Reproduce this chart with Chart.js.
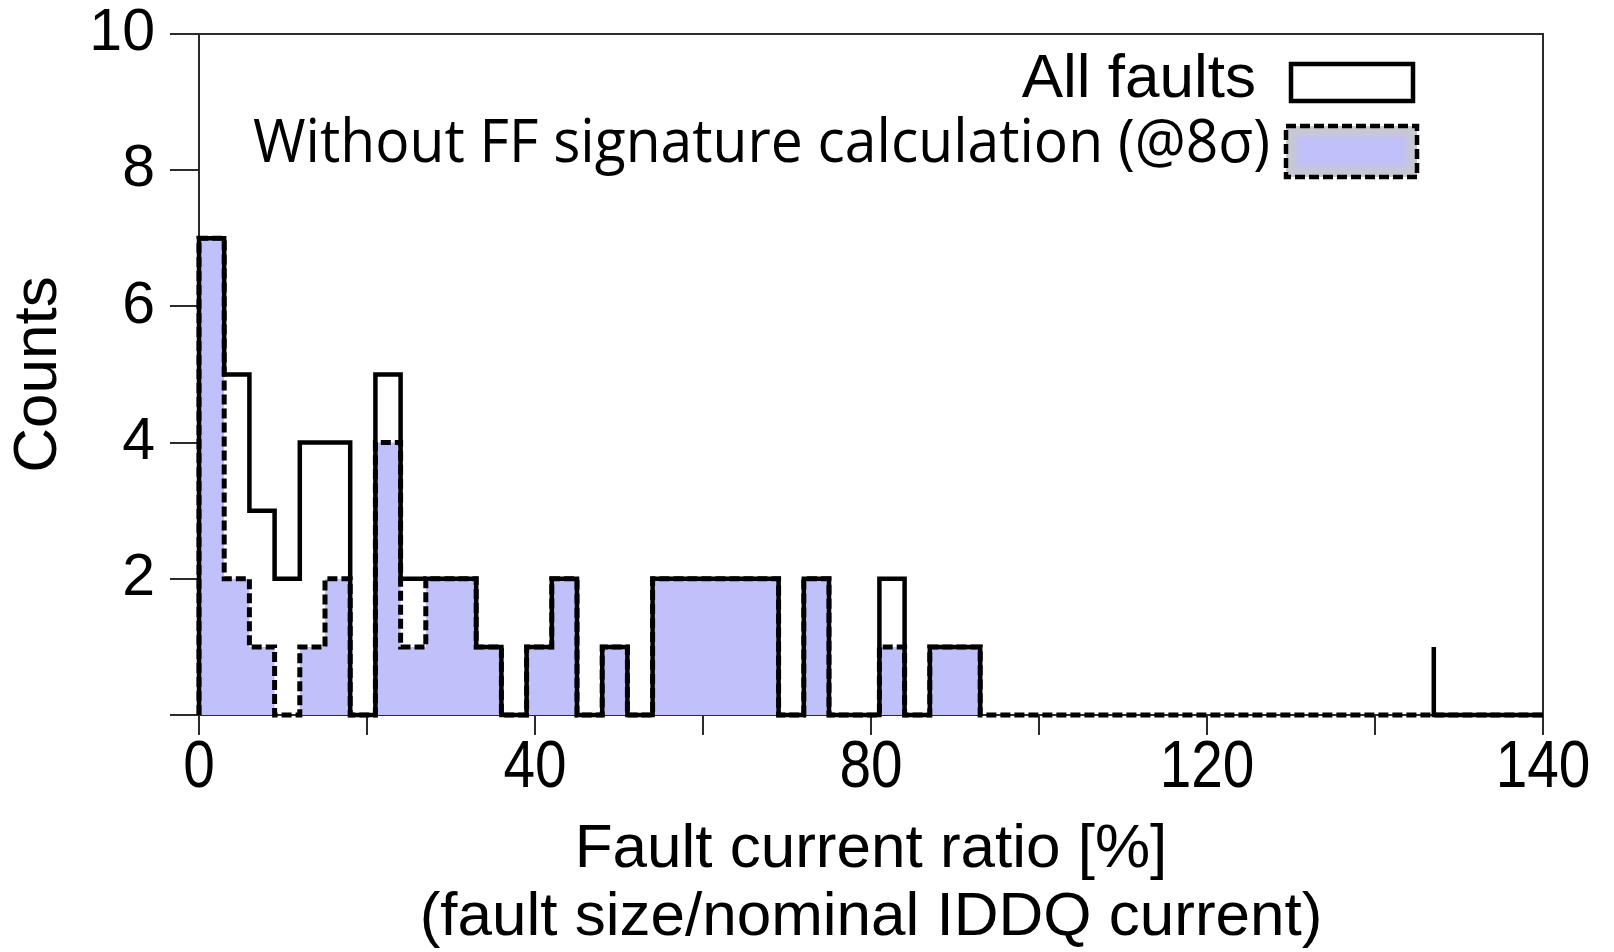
<!DOCTYPE html>
<html>
<head>
<meta charset="utf-8">
<script src="https://cdn.jsdelivr.net/npm/chart.js@4.4.1/dist/chart.umd.min.js"></script>
<style>
  html, body { margin: 0; padding: 0; background: #ffffff; }
  #wrap { width: 1614px; height: 952px; }
</style>
</head>
<body>
<div id="wrap"><canvas id="c" width="1614" height="952"></canvas></div>
<script>
// Histogram counts per 3 % bin, bins starting at 0, 3, 6, ... 90
const binWidth = 3;
const allFaults = [7, 5, 3, 2, 4, 4, 0, 5, 2, 2, 2, 1, 0, 1, 2, 0, 1, 0, 2, 2, 2, 2, 2, 0, 2, 0, 0, 2, 0, 1, 1];
const withoutFF = [7, 2, 1, 0, 1, 2, 0, 4, 1, 2, 2, 1, 0, 1, 2, 0, 1, 0, 2, 2, 2, 2, 2, 0, 2, 0, 0, 1, 0, 1, 1];
// single far outlier of the "all faults" set
const overflowStart = 147;
const overflowCount = 1;

const xRange = [0, 160];
const yRange = [0, 10];
const xTickLabels = ['0', '', '40', '', '80', '', '120', '', '140'];
const yTickLabels = ['', '2', '4', '6', '8', '10'];
const seriesLabels = ['All faults', 'Without FF signature calculation (@8\u03C3)'];

// step outline of a histogram: rise at x=0, one point per bin start, drop after the last bin
function histogramOutline(counts) {
  const pts = [{ x: 0, y: 0 }];
  counts.forEach((c, i) => pts.push({ x: i * binWidth, y: c }));
  pts.push({ x: counts.length * binWidth, y: 0 });
  return pts;
}

const allEnd = allFaults.length * binWidth;
const allPoints = histogramOutline(allFaults).concat([
  { x: (allEnd + overflowStart) / 2, y: null },
  { x: overflowStart, y: 0 },
  { x: overflowStart, y: overflowCount },
  { x: overflowStart, y: 0 },
  { x: xRange[1], y: 0 }
]);
const ffPoints = histogramOutline(withoutFF).concat([{ x: xRange[1], y: 0 }]);

const AXIS = '#2b2b2b';
const FILL = 'rgb(192,192,250)';
const ARIAL = "'Liberation Sans', Arial, sans-serif";

// box frame on the top and right of the plot
const framePlugin = {
  id: 'frame',
  beforeDatasetsDraw(chart, args, opts) {
    const { ctx, chartArea: a } = chart;
    ctx.save();
    ctx.strokeStyle = opts.color;
    ctx.lineWidth = opts.width;
    ctx.beginPath();
    ctx.moveTo(a.left - 1, a.top);
    ctx.lineTo(a.right, a.top);
    ctx.lineTo(a.right, a.bottom);
    ctx.stroke();
    ctx.restore();
  }
};

// narrow x tick labels, placed on the x scale's own tick positions
const condensedTicks = {
  id: 'condensedTicks',
  afterDraw(chart, args, opts) {
    const sc = chart.scales.x;
    const ctx = chart.ctx;
    ctx.save();
    ctx.font = opts.font;
    ctx.fillStyle = '#000';
    ctx.textAlign = 'center';
    ctx.textBaseline = 'alphabetic';
    sc.ticks.forEach((t, i) => {
      const label = xTickLabels[i];
      if (!label) return;
      ctx.save();
      ctx.translate(sc.getPixelForTick(i), chart.chartArea.bottom + opts.baselineOffset);
      ctx.scale(opts.squeeze, 1);
      ctx.fillText(label, 0, 0);
      ctx.restore();
    });
    ctx.restore();
  }
};

// right-aligned legend with the swatch after the text
const sideLegend = {
  id: 'sideLegend',
  afterDraw(chart, args, opts) {
    const ctx = chart.ctx;
    opts.items.forEach(item => {
      const ds = chart.data.datasets[item.dataset];
      ctx.save();
      ctx.font = item.font;
      ctx.fillStyle = '#000';
      ctx.textAlign = 'right';
      ctx.textBaseline = 'alphabetic';
      const w = ctx.measureText(ds.label).width;
      const sx = item.textWidth ? item.textWidth / w : 1;
      ctx.translate(item.textRight, item.baseline);
      ctx.scale(sx, 1);
      ctx.fillText(ds.label, 0, 0);
      ctx.restore();

      const b = item.box;
      ctx.save();
      if (ds.fill) {
        ctx.fillStyle = 'rgb(200,200,210)';
        ctx.fillRect(b.x, b.y, b.w, b.h);
        ctx.filter = 'blur(3px)';
        ctx.fillStyle = ds.backgroundColor;
        ctx.fillRect(b.x + 10, b.y + 10, b.w - 20, b.h - 20);
        ctx.filter = 'none';
      } else {
        ctx.fillStyle = '#fff';
        ctx.fillRect(b.x, b.y, b.w, b.h);
      }
      ctx.strokeStyle = ds.borderColor;
      ctx.lineWidth = item.lineWidth;
      ctx.setLineDash(ds.borderDash || []);
      ctx.strokeRect(b.x, b.y, b.w, b.h);
      ctx.restore();
    });
  }
};

new Chart(document.getElementById('c'), {
  type: 'line',
  data: {
    datasets: [
      {
        label: seriesLabels[1],
        data: ffPoints,
        stepped: 'before',
        borderColor: '#000',
        borderWidth: 5,
        borderDash: [10, 4],
        fill: 'origin',
        backgroundColor: FILL,
        pointRadius: 0,
        order: 0,
        clip: 8
      },
      {
        label: seriesLabels[0],
        data: allPoints,
        stepped: 'before',
        borderColor: '#000',
        borderWidth: 4.5,
        fill: false,
        spanGaps: false,
        pointRadius: 0,
        order: 1,
        clip: 8
      }
    ]
  },
  options: {
    responsive: false,
    animation: false,
    devicePixelRatio: 1,
    layout: { padding: { top: 34, right: 71, left: 0, bottom: 0 } },
    plugins: {
      legend: { display: false },
      tooltip: { enabled: false },
      filler: { drawTime: 'beforeDatasetsDraw' },
      frame: { color: AXIS, width: 2 },
      condensedTicks: { font: "66px " + ARIAL, squeeze: 0.86, baselineOffset: 72 },
      sideLegend: {
        items: [
          { dataset: 1, font: "62px " + ARIAL, textRight: 1256, baseline: 97, lineWidth: 4.5,
            box: { x: 1291, y: 64, w: 122, h: 37 } },
          { dataset: 0, font: "60px 'Open Sans', 'Noto Sans', sans-serif", textRight: 1270, baseline: 162,
            textWidth: 1017, lineWidth: 4.5, box: { x: 1286, y: 126, w: 131, h: 51 } }
        ]
      }
    },
    scales: {
      x: {
        type: 'linear',
        min: xRange[0],
        max: xRange[1],
        afterFit(scale) {
          scale.height = 237;
          scale.paddingLeft = 0;
          scale.paddingRight = 0;
        },
        border: { display: true, color: AXIS, width: 2 },
        grid: { drawOnChartArea: false, drawTicks: true, tickLength: 20, color: AXIS, lineWidth: 2 },
        ticks: {
          stepSize: 20,
          autoSkip: false,
          maxRotation: 0,
          padding: 4,
          color: 'rgba(0,0,0,0)',
          font: { family: ARIAL, size: 66 },
          callback: (v, i) => xTickLabels[i] ?? ''
        },
        title: {
          display: true,
          text: ['Fault current ratio [%]', '(fault size/nominal IDDQ current)'],
          color: '#000',
          font: { family: ARIAL, size: 62, lineHeight: 1.1 },
          padding: { top: 0, bottom: 0 }
        }
      },
      y: {
        min: yRange[0],
        max: yRange[1],
        afterFit(scale) {
          scale.width = 199;
          scale.paddingTop = 0;
          scale.paddingBottom = 0;
        },
        border: { display: true, color: AXIS, width: 2 },
        grid: { drawOnChartArea: false, drawTicks: true, tickLength: 29, color: AXIS, lineWidth: 2 },
        ticks: {
          stepSize: 2,
          padding: 15,
          color: '#000',
          font: { family: ARIAL, size: 59 },
          callback: (v, i) => yTickLabels[i] ?? ''
        },
        title: {
          display: true,
          text: 'Counts',
          color: '#000',
          font: { family: ARIAL, size: 62, lineHeight: 1.0 },
          padding: { top: 8, bottom: 0 }
        }
      }
    }
  },
  plugins: [framePlugin, condensedTicks, sideLegend]
});
</script>
</body>
</html>
